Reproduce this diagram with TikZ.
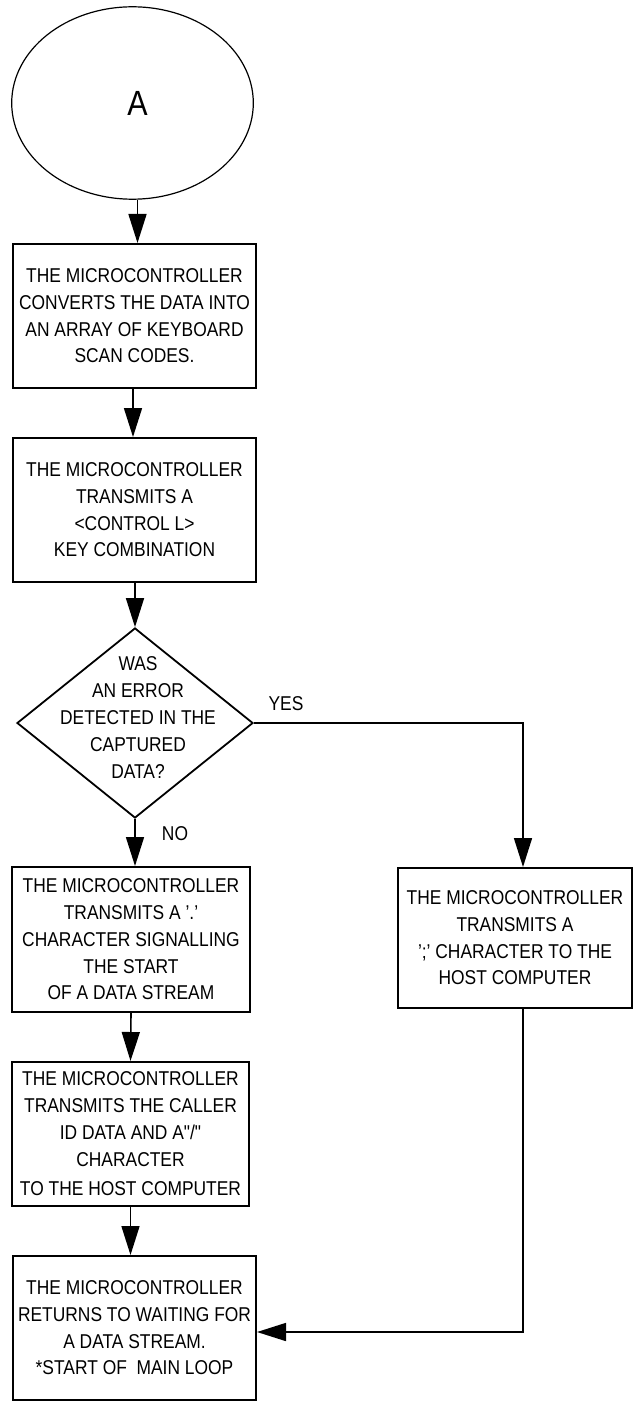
\documentclass[tikz,border=0pt]{standalone}
\usepackage{fontspec}
\setmainfont[FakeStretch=0.87]{Liberation Sans}
\usetikzlibrary{shapes.geometric,arrows.meta}

\tikzset{
  block/.style={draw, line width=1pt, minimum width=121.5pt, minimum height=72pt,
    inner sep=0pt, align=center, font=\fontsize{10}{13.35}\selectfont},
  decision/.style={draw, diamond, line width=0.9pt, minimum width=118pt,
    minimum height=95pt, inner sep=0pt},
  tag/.style={inner sep=0pt, font=\fontsize{10}{11}\selectfont},
  arr/.style={-{Triangle[length=14.5pt,width=9pt]}, line width=0.8pt},
}

\begin{document}
\begin{tikzpicture}[x=0.5pt, y=-0.5pt]
  \useasboundingbox (0,0) rectangle (633,1401);

  % Start
  \node[draw, ellipse, line width=0.6pt, minimum width=120.8pt, minimum height=96.2pt,
    inner sep=0pt, font=\fontsize{17.5}{20}\selectfont] (start) at (132.5,103) {\hspace*{5pt}A};

  % Steps
  \node[block] (convert) at (134.5,316)
    {THE MICROCONTROLLER\\CONVERTS THE DATA INTO\\AN ARRAY OF KEYBOARD\\SCAN CODES.};
  \node[block] (control) at (134.5,510)
    {THE MICROCONTROLLER\\TRANSMITS A\\<CONTROL L>\\KEY COMBINATION};

  % Decision
  \node[decision, label={[align=center, inner sep=0pt, xshift=1.5pt, yshift=2.75pt,
    font=\fontsize{10}{13.5}\selectfont]center:WAS\\AN ERROR\\DETECTED IN THE\\CAPTURED\\DATA?}]
    (error) at (135,723) {};
  \node[tag] (yes) at (286,704) {YES};
  \node[tag] (no) at (175,834) {NO};

  \node[block, minimum width=119pt, minimum height=72.5pt] (dot) at (131,939.5)
    {THE MICROCONTROLLER\\TRANSMITS A '.'\\CHARACTER SIGNALLING\\THE START\\OF A DATA STREAM};
  \node[block, minimum width=117pt, minimum height=70pt] (semi) at (515,938)
    {THE MICROCONTROLLER\\TRANSMITS A\\';' CHARACTER TO THE\\HOST COMPUTER};
  \node[block, minimum width=118.5pt] (callerid) at (130.5,1134)
    {THE MICROCONTROLLER\\TRANSMITS THE CALLER\\ID DATA AND A{\addfontfeatures{Ligatures=TeXOff}"/"}\\CHARACTER\\[1.5pt]TO THE HOST COMPUTER};
  \node[block] (wait) at (134.5,1328)
    {THE MICROCONTROLLER\\RETURNS TO WAITING FOR\\A DATA STREAM.\\*START OF \ MAIN LOOP};

  % Connectors
  \draw[arr] ([xshift=2.5pt]start.south) -- ([xshift=1.5pt]convert.north);
  \draw[arr] ([xshift=-0.75pt]convert.south) -- ([xshift=-0.75pt]control.north);
  \draw[arr] (control.south -| error.north) -- (error.north);
  \draw[arr] (error.south) -- (error.south |- dot.north);
  \draw[arr] (error.east) -| ([xshift=4pt]semi.north);
  \draw[arr] (dot.south) -- (callerid.north);
  \draw[arr] (callerid.south) -- (callerid.south |- wait.north);
  \draw[arr] ([xshift=4pt]semi.south) |- ([yshift=-2pt]wait.east);
\end{tikzpicture}
\end{document}
